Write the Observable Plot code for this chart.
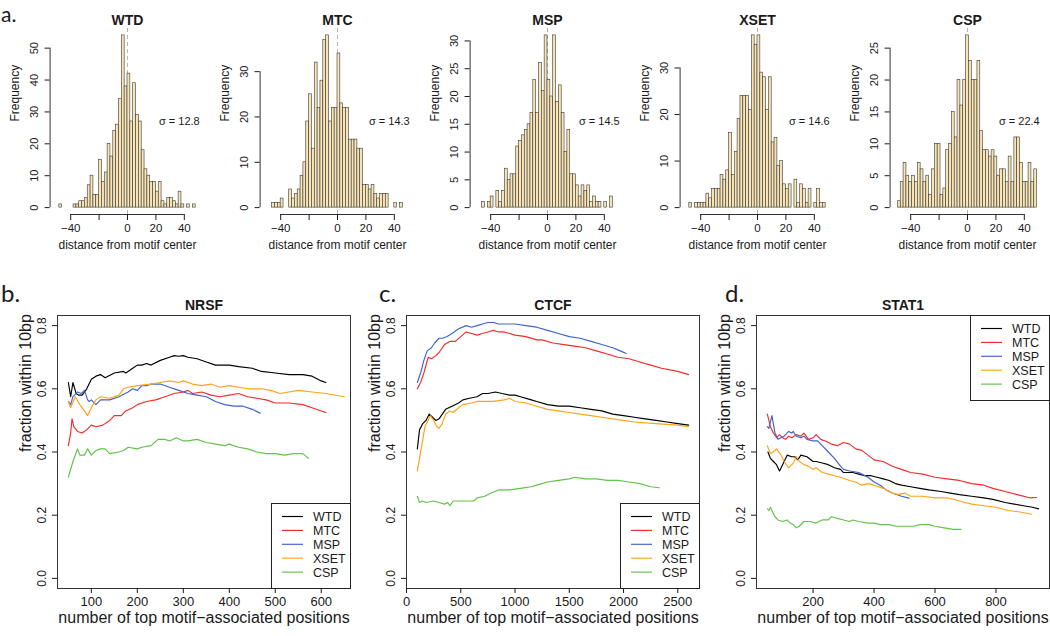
<!DOCTYPE html>
<html><head><meta charset="utf-8">
<script src="https://cdn.jsdelivr.net/npm/d3@7"></script>
<script src="https://cdn.jsdelivr.net/npm/@observablehq/plot@0.6"></script>
<style>
body{margin:0;background:#fff;}
#root{position:relative;width:1050px;height:636px;overflow:hidden;background:#fff;}
</style></head><body><div id="root"></div>
<script>
const FONT_R = "'Liberation Sans', Arial, sans-serif";
const FONT_L = "Lato, 'Open Sans', sans-serif";

// ---------- histograms (panel a) ----------
const histNames = ["WTD", "MTC", "MSP", "XSET", "CSP"];
const histSigma = [12.8, 14.3, 14.5, 14.6, 22.4];
const histStart = [-48, -46, -48, -48, -49];
const wtdCounts = [1,0,0,0,0,1,1,2,2,3,7,10,4,4,15,8,11,20,16,24,26,34,54,38,42,27,39,29,27,18,12,10,8,8,5,8,2,1,3,3,2,1,5,1,0,1,0,1];
const mtcCounts = [1,1,1,2,0,0,4,2,3,4,7,10,19,25,13,32,22,28,37,38,19,22,22,34,23,22,22,15,15,15,13,13,5,5,4,5,3,2,3,3,3,0,0,1,0,1];
const mspCounts = [0,1,0,1,2,0,3,1,3,7,5,6,6,11,12,13,14,15,17,23,17,26,21,31,23,20,31,19,22,17,10,14,6,6,4,2,4,3,4,1,2,1,1,0,1,0,2,0];
const xsetCounts = [1,0,1,1,1,1,3,2,4,4,4,7,6,8,16,7,12,19,24,24,24,21,37,35,37,29,28,21,28,14,15,9,10,5,4,5,0,6,1,5,4,1,4,0,1,4,1,1];
const cspCounts = [1,4,7,5,4,5,4,7,6,4,5,2,6,10,10,2,3,9,10,15,11,20,16,20,27,23,20,20,23,12,9,9,8,9,8,5,6,6,4,8,4,11,11,7,4,4,7,4,6];
const histCounts = [wtdCounts, mtcCounts, mspCounts, xsetCounts, cspCounts];
const histYTicks = [[0,10,20,30,40,50],[0,10,20,30],[0,5,10,15,20,25,30],[0,10,20,30],[0,5,10,15,20,25]];
const histXTicks = [-40, -20, 0, 20, 40];
const histXTickLabels = ["−40", "", "0", "20", "40"];
const histXLim = [-54.5, 54.5];

// ---------- line panels (b, c, d) ----------
const seriesNames = ["WTD", "MTC", "MSP", "XSET", "CSP"];
const seriesColors = ["#000000", "#f22b2b", "#3f63cc", "#ffa31a", "#62c24a"];
const fracTicks = [0, 0.2, 0.4, 0.6, 0.8];
const fracLim = [-0.032, 0.832];

const nrsfXLim = [26.4, 663.6];
const nrsfXTicks = [100, 200, 300, 400, 500, 600];
const nrsfWTD = [[50,.62],[55,.575],[60,.62],[67,.585],[72,.58],[80,.58],[90,.60],[100,.63],[110,.64],[120,.645],[130,.635],[150,.65],[170,.655],[175,.65],[190,.665],[200,.675],[210,.675],[220,.68],[230,.675],[250,.69],[270,.70],[280,.705],[290,.703],[300,.705],[310,.70],[330,.695],[350,.685],[370,.675],[400,.675],[420,.67],[450,.665],[470,.655],[500,.65],[530,.645],[560,.645],[580,.64],[600,.625],[610,.62]];
const nrsfMTC = [[50,.42],[55,.46],[58,.505],[62,.48],[70,.465],[80,.46],[90,.47],[100,.485],[110,.48],[125,.485],[140,.50],[150,.515],[165,.515],[175,.53],[190,.54],[200,.55],[220,.56],[240,.565],[260,.575],[280,.585],[300,.59],[310,.595],[320,.585],[340,.59],[360,.58],[380,.575],[400,.58],[420,.585],[440,.575],[460,.57],[480,.565],[500,.555],[530,.555],[560,.55],[580,.54],[600,.53],[610,.525]];
const nrsfMSP = [[50,.56],[55,.55],[60,.575],[70,.59],[78,.585],[85,.595],[92,.565],[95,.56],[100,.565],[110,.55],[120,.565],[140,.565],[160,.575],[180,.59],[190,.60],[200,.595],[210,.61],[220,.61],[230,.615],[250,.615],[270,.605],[290,.595],[310,.585],[330,.58],[350,.575],[370,.56],[390,.55],[410,.545],[430,.545],[450,.535],[467,.523]];
const nrsfXSET = [[50,.56],[55,.54],[65,.575],[75,.55],[85,.53],[92,.515],[100,.54],[110,.565],[120,.575],[140,.57],[160,.58],[170,.60],[180,.605],[200,.61],[230,.615],[250,.62],[270,.625],[290,.62],[300,.625],[320,.615],[340,.61],[360,.615],[380,.605],[400,.61],[420,.605],[440,.60],[470,.60],[490,.595],[510,.585],[530,.59],[550,.595],[580,.59],[610,.585],[650,.575]];
const nrsfCSP = [[50,.32],[60,.37],[70,.41],[75,.39],[85,.39],[92,.41],[100,.39],[110,.405],[120,.41],[130,.41],[140,.395],[160,.40],[170,.405],[180,.415],[200,.41],[210,.415],[230,.42],[245,.44],[260,.44],[270,.435],[285,.445],[300,.435],[310,.435],[330,.44],[350,.43],[370,.425],[390,.42],[400,.425],[420,.415],[440,.41],[460,.40],[480,.395],[500,.395],[520,.39],[540,.395],[560,.395],[572,.38]];

const ctcfXLim = [0, 2700];
const ctcfXTicks = [0, 500, 1000, 1500, 2000, 2500];
const ctcfWTD = [[100,.41],[120,.47],[150,.49],[180,.50],[210,.52],[240,.51],[270,.50],[300,.505],[330,.52],[360,.535],[420,.545],[480,.555],[520,.565],[580,.57],[650,.575],[700,.585],[750,.585],[820,.59],[880,.585],[950,.58],[1000,.58],[1050,.575],[1150,.565],[1200,.56],[1300,.55],[1400,.545],[1500,.545],[1600,.54],[1700,.535],[1800,.53],[1900,.52],[2000,.515],[2100,.51],[2200,.505],[2300,.50],[2400,.495],[2500,.49],[2600,.485]];
const ctcfMTC = [[100,.60],[130,.62],[160,.65],[200,.70],[230,.695],[270,.705],[300,.715],[350,.74],[400,.75],[450,.75],[500,.765],[550,.78],[600,.775],[650,.77],[700,.775],[750,.78],[800,.785],[850,.78],[900,.78],[950,.775],[1000,.77],[1100,.765],[1200,.755],[1250,.755],[1350,.745],[1450,.74],[1550,.735],[1650,.73],[1750,.72],[1850,.71],[1950,.70],[2050,.695],[2150,.685],[2250,.675],[2350,.665],[2500,.655],[2600,.645]];
const ctcfMSP = [[100,.62],[130,.65],[160,.69],[190,.72],[230,.73],[260,.745],[300,.76],[330,.76],[370,.765],[420,.775],[480,.79],[550,.80],[600,.795],[650,.80],[700,.805],[750,.81],[800,.81],[850,.805],[900,.805],[1000,.805],[1100,.80],[1200,.795],[1300,.785],[1400,.775],[1500,.765],[1600,.76],[1700,.75],[1800,.74],[1900,.73],[1970,.72],[2025,.712]];
const ctcfXSET = [[100,.34],[120,.38],[150,.44],[170,.48],[190,.495],[220,.515],[250,.50],[280,.48],[300,.475],[330,.49],[360,.52],[400,.53],[430,.525],[480,.54],[520,.55],[600,.555],[650,.56],[700,.56],[800,.56],[900,.565],[950,.57],[1000,.56],[1100,.555],[1200,.545],[1300,.535],[1400,.53],[1500,.525],[1600,.52],[1700,.515],[1800,.51],[1900,.505],[2000,.50],[2100,.495],[2300,.49],[2500,.485],[2600,.48]];
const ctcfCSP = [[100,.26],[120,.24],[150,.245],[180,.24],[250,.245],[300,.24],[350,.235],[380,.24],[400,.23],[430,.245],[500,.245],[560,.245],[620,.245],[650,.255],[720,.26],[780,.27],[850,.28],[950,.28],[1050,.285],[1150,.29],[1200,.295],[1300,.305],[1400,.31],[1500,.315],[1550,.32],[1650,.315],[1750,.315],[1850,.31],[1950,.31],[2050,.305],[2150,.30],[2250,.29],[2330,.287]];

const stat1XLim = [14.4, 975.6];
const stat1XTicks = [200, 400, 600, 800];
const stat1WTD = [[52,.40],[60,.38],[70,.37],[80,.36],[90,.34],[100,.36],[115,.39],[130,.385],[140,.385],[150,.375],[160,.39],[180,.385],[200,.37],[210,.37],[230,.365],[250,.36],[270,.35],[290,.345],[300,.335],[330,.335],[350,.33],[370,.325],[390,.325],[410,.32],[430,.315],[450,.31],[470,.30],[490,.295],[520,.29],[550,.285],[580,.28],[620,.275],[650,.27],[680,.265],[720,.26],[760,.255],[790,.25],[830,.24],[860,.235],[890,.23],[920,.225],[940,.22]];
const stat1MTC = [[50,.52],[60,.48],[70,.46],[80,.445],[90,.455],[100,.445],[110,.44],[120,.45],[130,.445],[145,.455],[160,.45],[170,.46],[185,.44],[200,.445],[210,.455],[225,.44],[240,.435],[260,.425],[280,.42],[300,.43],[320,.425],[340,.41],[360,.405],[380,.39],[400,.375],[430,.37],[460,.355],[490,.345],[520,.335],[560,.33],[600,.32],[640,.315],[680,.31],[720,.30],[760,.295],[790,.285],[830,.275],[870,.265],[910,.255],[933,.256]];
const stat1MSP = [[50,.48],[55,.475],[65,.515],[75,.46],[85,.44],[95,.445],[105,.45],[120,.465],[130,.46],[135,.465],[145,.45],[160,.445],[170,.45],[180,.44],[200,.435],[215,.435],[230,.42],[250,.40],[270,.38],[290,.355],[300,.345],[320,.34],[350,.335],[380,.32],[400,.305],[420,.295],[440,.28],[460,.27],[490,.26],[515,.254]];
const stat1XSET = [[50,.42],[60,.395],[70,.40],[80,.41],[95,.39],[105,.37],[120,.35],[135,.365],[145,.385],[155,.37],[170,.36],[185,.355],[200,.345],[210,.35],[230,.335],[250,.33],[270,.325],[290,.32],[320,.31],[340,.305],[360,.295],[380,.30],[400,.295],[430,.285],[460,.27],[480,.265],[500,.27],[520,.26],[560,.26],[600,.255],[640,.255],[680,.245],[720,.235],[760,.23],[800,.225],[840,.215],[880,.21],[917,.203]];
const stat1CSP = [[50,.22],[55,.215],[60,.225],[65,.215],[75,.195],[85,.185],[100,.18],[115,.185],[125,.175],[135,.17],[145,.16],[155,.165],[170,.18],[190,.18],[210,.175],[230,.185],[250,.185],[260,.195],[280,.19],[300,.185],[320,.18],[330,.185],[350,.18],[380,.175],[400,.175],[420,.17],[450,.17],[470,.165],[500,.165],[530,.165],[550,.17],[580,.17],[600,.165],[630,.16],[660,.155],[685,.155]];

const root = document.getElementById("root");
function place(el, left, top) {
  el.style.position = "absolute";
  el.style.left = left + "px";
  el.style.top = top + "px";
  root.appendChild(el);
}
const baseStyle = {background: "transparent", overflow: "visible", fontFamily: FONT_R, fontSize: "11px", color: "#1a1a1a"};

function histogram(k) {
  const counts = histCounts[k];
  const start = histStart[k];
  const bins = counts.map((n, j) => ({b0: start + 2 * j, b1: start + 2 * j + 2, n}));
  const maxN = d3.max(counts);
  const yt = histYTicks[k];
  const svg = Plot.plot({
    width: 210, height: 262,
    marginLeft: 49.6, marginRight: 5.6, marginTop: 28, marginBottom: 48,
    style: baseStyle,
    x: {domain: histXLim, label: null},
    y: {domain: [-0.04 * maxN, 1.04 * maxN], label: null},
    marks: [
      Plot.ruleX([0], {stroke: "#b5b5b5", strokeDasharray: "4,3"}),
      Plot.rectY(bins, {x1: "b0", x2: "b1", y: "n", fill: "#f8e4b4", stroke: "#383838", strokeWidth: 0.6}),
      Plot.ruleX([histXLim[0]], {y1: yt[0], y2: yt[yt.length - 1], stroke: "#333"}),
      Plot.ruleY([-0.04 * maxN], {x1: histXTicks[0], x2: histXTicks[histXTicks.length - 1], stroke: "#333"}),
      Plot.axisY(yt, {anchor: "left", tickSize: 5, tickRotate: -90, tickPadding: 7, label: null, fontSize: 11}),
      Plot.axisX(histXTicks, {anchor: "bottom", tickSize: 6, tickPadding: 3, label: null, fontSize: 11.5,
        tickFormat: d => histXTickLabels[histXTicks.indexOf(d)]}),
      Plot.text([histSigma[k]], {x: 36.5, y: maxN / 2, text: d => `σ = ${d}`, fontSize: 11}),
      Plot.text([histNames[k]], {frameAnchor: "top", dy: -13, fontWeight: "bold", fontSize: 14}),
      Plot.text(["Frequency"], {frameAnchor: "left", dx: -35, rotate: -90, fontSize: 12}),
      Plot.text(["distance from motif center"], {frameAnchor: "bottom", dy: 34, fontSize: 12})
    ]
  });
  place(svg, 210 * k, 0);
}
for (let k = 0; k < 5; k++) histogram(k);

function linePanel(left, ml, mr, title, series, xLim, xTicks) {
  const rows = seriesNames.flatMap((name, k) => series[k].map(([x, y]) => ({name, x, y})));
  const svg = Plot.plot({
    width: 350, height: 366,
    marginLeft: ml, marginRight: mr, marginTop: 45, marginBottom: 48,
    style: baseStyle,
    x: {domain: xLim, label: null},
    y: {domain: fracLim, label: null},
    color: {domain: seriesNames, range: seriesColors},
    marks: [
      Plot.line(rows, {x: "x", y: "y", z: "name", stroke: "name", strokeWidth: 1.15}),
      Plot.frame({stroke: "#333"}),
      Plot.axisX(xTicks, {anchor: "bottom", tickSize: 5, tickPadding: 3, label: null, fontSize: 13, tickFormat: d3.format("d")}),
      Plot.axisY(fracTicks, {anchor: "left", tickSize: 5, tickRotate: -90, tickPadding: 7, label: null, fontSize: 12, tickFormat: d3.format(".1f")}),
      Plot.text([title], {frameAnchor: "top", dy: -15, fontWeight: "bold", fontSize: 14}),
      Plot.text(["fraction within 10bp"], {frameAnchor: "left", dx: -32, rotate: -90, fontSize: 16}),
      Plot.text(["number of top motif−associated positions"], {frameAnchor: "bottom", dy: 34, fontSize: 16})
    ]
  });
  place(svg, left, 270);
}
linePanel(0, 57, 0, "NRSF", [nrsfWTD, nrsfMTC, nrsfMSP, nrsfXSET, nrsfCSP], nrsfXLim, nrsfXTicks);
linePanel(350, 56, 1, "CTCF", [ctcfWTD, ctcfMTC, ctcfMSP, ctcfXSET, ctcfCSP], ctcfXLim, ctcfXTicks);
linePanel(700, 56, 1, "STAT1", [stat1WTD, stat1MTC, stat1MSP, stat1XSET, stat1CSP], stat1XLim, stat1XTicks);

// legends
function legend(left, top) {
  const w = 80, h = 86;
  const s = d3.create("svg").attr("width", w).attr("height", h)
    .style("font-family", FONT_R).style("font-size", "12.5px");
  s.append("rect").attr("x", 0.5).attr("y", 0.5).attr("width", w - 1).attr("height", h - 1)
    .attr("fill", "#fff").attr("stroke", "#222");
  seriesNames.forEach((name, i) => {
    const y = 13.5 + i * 13.9;
    s.append("line").attr("x1", 11).attr("x2", 32).attr("y1", y).attr("y2", y)
      .attr("stroke", seriesColors[i]).attr("stroke-width", 1.15);
    s.append("text").attr("x", 42).attr("y", y).attr("dy", "0.36em").attr("fill", "#1a1a1a").text(name);
  });
  place(s.node(), left, top);
}
legend(270.5, 502.5);
legend(619.5, 502.5);
legend(969.5, 314.5);

// panel letters
const letters = d3.create("svg").attr("width", 1050).attr("height", 636)
  .style("font-family", FONT_L).style("pointer-events", "none");
[["a.", 1, 22, 21], ["b.", 1, 302, 24], ["c.", 379, 302, 24], ["d.", 725, 302, 24]].forEach(([t, x, y, fs]) => {
  letters.append("text").attr("x", x).attr("y", y).attr("font-size", fs).attr("fill", "#1a1a1a").text(t);
});
place(letters.node(), 0, 0);
</script></body></html>
